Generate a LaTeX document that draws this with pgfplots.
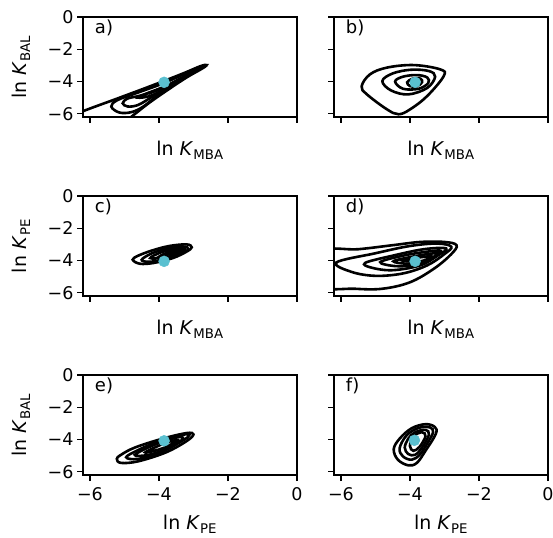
\documentclass[border=0pt]{standalone}
\usepackage{fontspec}
\setmainfont{DejaVu Sans}
\usepackage{pgfplots}
\pgfplotsset{compat=1.18}
\definecolor{dotc}{RGB}{90,192,208}
\tikzset{plab/.style={anchor=north west, inner sep=0pt, font=\fontsize{18}{20}\selectfont}}
\pgfplotsset{
  panel/.style={
    scale only axis, width=214pt, height=100pt,
    xmin=-6.2, xmax=0, ymin=-6.2, ymax=0,
    xtick={-6,-4,-2,0}, ytick={-6,-4,-2,0},
    xticklabels={}, yticklabels={},
    tick align=outside, major tick length=6pt,
    every tick/.style={black, line width=1.4pt},
    axis line style={line width=1.4pt},
    tick pos=left,
    ticklabel style={font=\fontsize{17.5}{20}\selectfont},
    xticklabel style={yshift=-3pt},
    every axis y label/.style={at={(axis description cs:-0.29,0.5)}, rotate=90, anchor=center, font=\fontsize{19}{22}\selectfont},
    every axis x label/.style={at={(axis description cs:0.5,-0.33)}, anchor=center, font=\fontsize{19}{22}\selectfont},
    anchor=north west,
  },
  ylab/.style={yticklabels={−6,−4,−2,0}},
  xlab/.style={xticklabels={−6,−4,−2,0}, every axis x label/.style={at={(axis description cs:0.5,-0.49)}, anchor=center, font=\fontsize{19}{22}\selectfont}},
  cont/.style={black, line width=2.6pt, smooth cycle, tension=0.6, mark=none},
  dot/.style={only marks, mark=*, mark size=5.5pt, color=dotc, mark options={draw=dotc, fill=dotc}},
}
\newcommand{\lnK}[1]{ln \textit{K}\textsubscript{#1}}
\begin{document}
\begin{tikzpicture}
\useasboundingbox (0,0) rectangle (553pt,-537pt);
% a
\begin{axis}[panel, ylab, at={(83pt,-17pt)}, xlabel={\lnK{MBA}}, ylabel={\lnK{BAL}}]
\addplot[cont] coordinates {(-6.8,-6.4) (-6.2,-5.84) (-5.2,-5.05) (-4.2,-4.25) (-3.3,-3.5) (-2.8,-3.05) (-2.62,-2.98) (-2.75,-3.2) (-3.2,-3.75) (-3.8,-4.6) (-4.3,-5.35) (-4.75,-6.1) (-5.2,-6.8) (-6.2,-7.0)};
\addplot[cont] coordinates {(-5.38,-5.55) (-5.2,-5.15) (-4.6,-4.68) (-3.8,-4.05) (-3.1,-3.35) (-2.72,-3.05) (-2.85,-3.25) (-3.4,-3.98) (-4.0,-4.8) (-4.45,-5.55) (-4.8,-5.9) (-5.15,-5.92)};
\addplot[cont] coordinates {(-5.05,-5.35) (-4.9,-5.05) (-4.5,-4.85) (-3.8,-4.3) (-3.1,-3.45) (-2.8,-3.15) (-3.0,-3.35) (-3.6,-4.15) (-4.2,-4.95) (-4.6,-5.45) (-4.9,-5.55)};
\addplot[cont] coordinates {(-4.6,-5.0) (-4.3,-4.7) (-3.7,-4.2) (-3.1,-3.55) (-2.9,-3.25) (-3.1,-3.5) (-3.6,-4.15) (-4.2,-4.85)};
\addplot[cont] coordinates {(-4.3,-4.75) (-3.6,-4.1) (-3.05,-3.5) (-3.4,-3.85) (-3.9,-4.4)};
\addplot[dot] coordinates {(-3.85,-4.05)};
\node[plab] at (rel axis cs:0.055,0.97) {a)};
\end{axis}
% b
\begin{axis}[panel, at={(334pt,-17pt)}, xlabel={\lnK{MBA}}]
\addplot[cont] coordinates {(-5.40,-4.3) (-5.16,-3.56) (-4.67,-3.14) (-3.89,-2.98) (-3.12,-3.25) (-3.02,-3.66) (-3.50,-4.90) (-3.99,-5.72) (-4.33,-6.03) (-4.67,-5.72) (-5.25,-4.79)};
\addplot[cont] coordinates {(-4.80,-3.97) (-4.5,-3.5) (-3.97,-3.27) (-3.45,-3.35) (-3.27,-3.7) (-3.5,-4.4) (-4.05,-4.8) (-4.55,-4.55)};
\addplot[cont] coordinates {(-4.43,-4.0) (-4.2,-3.7) (-3.8,-3.6) (-3.5,-3.75) (-3.47,-4.1) (-3.75,-4.45) (-4.2,-4.45)};
\addplot[cont] coordinates {(-4.08,-4.05) (-3.92,-3.82) (-3.7,-3.82) (-3.65,-4.05) (-3.8,-4.3) (-4.0,-4.28)};
\addplot[dot] coordinates {(-3.85,-4.05)};
\node[plab] at (rel axis cs:0.055,0.97) {b)};
\end{axis}
% c
\begin{axis}[panel, ylab, at={(83pt,-196pt)}, xlabel={\lnK{MBA}}, ylabel={\lnK{PE}}]
\addplot[cont] coordinates {(-4.76,-3.95) (-4.55,-4.2) (-4.15,-4.15) (-3.6,-3.85) (-3.2,-3.45) (-3.05,-3.18) (-3.2,-3.0) (-3.7,-3.1) (-4.2,-3.38) (-4.6,-3.7)};
\addplot[cont] coordinates {(-4.5,-3.95) (-4.3,-4.08) (-3.9,-3.95) (-3.45,-3.65) (-3.15,-3.3) (-3.3,-3.13) (-3.75,-3.25) (-4.2,-3.55)};
\addplot[cont] coordinates {(-4.25,-3.85) (-3.85,-3.82) (-3.45,-3.55) (-3.25,-3.3) (-3.55,-3.28) (-3.95,-3.5)};
\addplot[cont] coordinates {(-3.95,-3.7) (-3.6,-3.55) (-3.35,-3.35) (-3.6,-3.38)};
\addplot[dot] coordinates {(-3.85,-4.05)};
\node[plab] at (rel axis cs:0.055,0.97) {c)};
\end{axis}
% d
\begin{axis}[panel, at={(334pt,-196pt)}, xlabel={\lnK{MBA}}]
\addplot[cont] coordinates {(-6.6,-3.45) (-5.5,-3.3) (-4.5,-3.05) (-3.7,-2.85) (-3.0,-2.85) (-2.65,-3.05) (-2.8,-3.6) (-3.3,-4.5) (-4.0,-5.35) (-4.8,-5.75) (-5.6,-5.75) (-6.6,-5.55)};
\addplot[cont] coordinates {(-6.13,-4.12) (-5.0,-3.55) (-4.0,-3.1) (-3.2,-2.95) (-2.8,-3.15) (-3.0,-3.6) (-3.5,-4.3) (-4.2,-4.8) (-5.0,-4.95) (-5.7,-4.7)};
\addplot[cont] coordinates {(-5.3,-4.15) (-4.5,-3.7) (-3.6,-3.3) (-2.95,-3.25) (-3.2,-3.7) (-3.7,-4.3) (-4.5,-4.6) (-5.1,-4.45)};
\addplot[cont] coordinates {(-4.86,-4.1) (-4.2,-3.7) (-3.5,-3.45) (-3.1,-3.4) (-3.3,-3.8) (-3.8,-4.25) (-4.4,-4.35)};
\addplot[cont] coordinates {(-4.48,-4.05) (-3.9,-3.75) (-3.3,-3.55) (-3.2,-3.6) (-3.5,-4.0) (-4.0,-4.2)};
\addplot[cont] coordinates {(-4.23,-4.0) (-3.7,-3.8) (-3.36,-3.75) (-3.7,-4.05)};
\addplot[dot] coordinates {(-3.85,-4.05)};
\node[plab] at (rel axis cs:0.055,0.97) {d)};
\end{axis}
% e
\begin{axis}[panel, ylab, xlab, at={(83pt,-375pt)}, xlabel={\lnK{PE}}, ylabel={\lnK{BAL}}]
\addplot[cont] coordinates {(-5.22,-5.2) (-5.1,-5.45) (-4.6,-5.35) (-3.8,-4.8) (-3.2,-4.1) (-3.0,-3.68) (-3.2,-3.6) (-3.9,-3.95) (-4.7,-4.5) (-5.1,-4.95)};
\addplot[cont] coordinates {(-4.95,-5.1) (-4.6,-5.2) (-3.9,-4.75) (-3.3,-4.05) (-3.12,-3.72) (-3.35,-3.72) (-4.0,-4.1) (-4.6,-4.65)};
\addplot[cont] coordinates {(-4.7,-4.95) (-4.3,-4.95) (-3.7,-4.5) (-3.3,-3.95) (-3.5,-3.88) (-4.1,-4.3)};
\addplot[cont] coordinates {(-4.4,-4.8) (-3.9,-4.55) (-3.45,-4.05) (-3.8,-4.2)};
\addplot[dot] coordinates {(-3.85,-4.08)};
\node[plab] at (rel axis cs:0.055,0.97) {e)};
\end{axis}
% f
\begin{axis}[panel, xlab, at={(334pt,-375pt)}, xlabel={\lnK{PE}}]
\addplot[cont] coordinates {(-4.47,-4.6) (-4.35,-5.25) (-4.05,-5.6) (-3.8,-5.45) (-3.55,-4.7) (-3.25,-3.65) (-3.28,-3.22) (-3.55,-3.05) (-3.95,-3.3) (-4.3,-3.95)};
\addplot[cont] coordinates {(-4.3,-4.55) (-4.2,-5.05) (-3.95,-5.25) (-3.72,-4.95) (-3.5,-4.25) (-3.33,-3.55) (-3.42,-3.25) (-3.75,-3.28) (-4.1,-3.75)};
\addplot[cont] coordinates {(-4.15,-4.5) (-4.05,-4.9) (-3.85,-4.95) (-3.65,-4.5) (-3.45,-3.7) (-3.55,-3.4) (-3.85,-3.55) (-4.05,-3.95)};
\addplot[cont] coordinates {(-4.0,-4.4) (-3.9,-4.7) (-3.72,-4.45) (-3.55,-3.8) (-3.65,-3.55) (-3.9,-3.8)};
\addplot[dot] coordinates {(-3.87,-4.05)};
\node[plab] at (rel axis cs:0.055,0.97) {f)};
\end{axis}
\end{tikzpicture}
\end{document}
